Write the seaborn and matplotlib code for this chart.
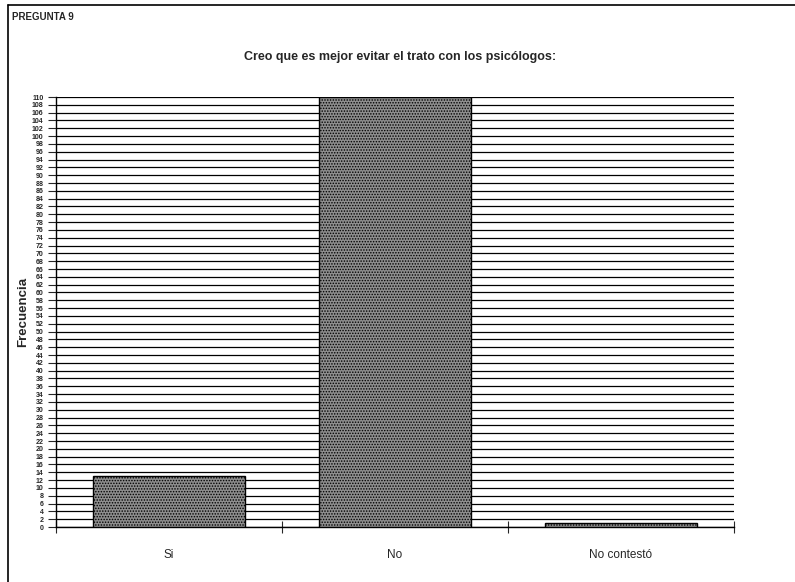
import matplotlib
matplotlib.use("Agg")
import matplotlib.pyplot as plt
from matplotlib.lines import Line2D
import numpy as np
import pandas as pd
import seaborn as sns

# datos
categorias = ["Si", "No", "No contestó"]
frecuencias = [13, 110, 1]
y_ticks = list(range(0, 111, 2))

sns.set_style("white")
plt.rcParams["font.family"] = ["Liberation Sans", "DejaVu Sans"]
plt.rcParams["hatch.linewidth"] = 0.7

df = pd.DataFrame({"Respuesta": categorias, "Frecuencia": frecuencias})

fig = plt.figure(figsize=(7.95, 5.82), dpi=100)
ax = fig.add_axes([56 / 795, 1 - 527 / 582, (734 - 56) / 795, (527 - 97) / 582])

sns.barplot(data=df, x="Respuesta", y="Frecuencia", color="#8e8e8e",
            width=0.67, edgecolor="black", linewidth=1.0, saturation=1, ax=ax, zorder=3)
for p in ax.patches:
    p.set_hatch("......")

ax.set_xlim(-0.5, 2.5)
ax.set_ylim(0, 110)
ax.set_yticks(y_ticks)
ax.set_yticklabels([str(v) for v in y_ticks], fontsize=5, fontweight="bold")
ax.yaxis.grid(True, color="black", linewidth=0.9)
ax.set_axisbelow(True)
ax.tick_params(axis="y", direction="out", length=6, width=0.8, pad=3, left=True)

ax.set_xticks([0, 1, 2])
ax.set_xticklabels(categorias, fontsize=8.5)
ax.tick_params(axis="x", length=0, pad=16)
ax.set_xticks([-0.5, 0.5, 1.5, 2.5], minor=True)
ax.tick_params(axis="x", which="minor", direction="inout", length=8, width=0.8, bottom=True)

for side in ["top", "right"]:
    ax.spines[side].set_visible(False)
ax.spines["left"].set_linewidth(1.0)
ax.spines["bottom"].set_linewidth(1.0)
ax.spines["left"].set_color("black")
ax.spines["bottom"].set_color("black")

ax.set_xlabel("")
ax.set_ylabel("Frecuencia", fontsize=9.5, fontweight="bold")
ax.yaxis.set_label_coords(-27 / 678, 0.5)

fig.text(0.503, 1 - 57 / 582, "Creo que es mejor evitar el trato con los psicólogos:",
         ha="center", va="center", fontsize=9, fontweight="bold")
fig.text(12 / 795, 1 - 17 / 582, "PREGUNTA 9", ha="left", va="center",
         fontsize=7, fontweight="bold")

fig.add_artist(Line2D([8 / 795, 1], [1 - 5 / 582, 1 - 5 / 582], color="black", linewidth=1.2))
fig.add_artist(Line2D([8 / 795, 8 / 795], [0, 1 - 5 / 582], color="black", linewidth=1.2))

fig.savefig("out.png", dpi=100)
